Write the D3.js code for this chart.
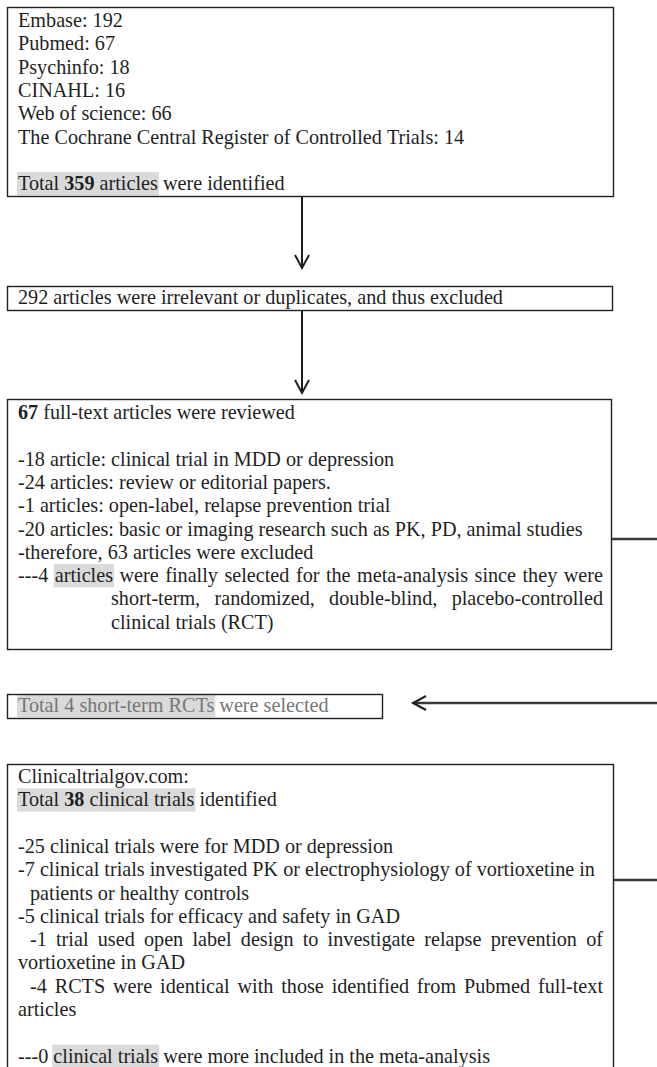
<!DOCTYPE html>
<html lang="en">
<head>
<meta charset="UTF-8">
<title>Flow diagram</title>
<script src="https://cdn.jsdelivr.net/npm/d3@7"></script>
<style>
  body { margin: 0; background: #fff; }
  svg { display: block; }
</style>
</head>
<body>
<div id="chart"></div>
<script>
// ---- data ----
var searchSources = ["Embase", "Pubmed", "Psychinfo", "CINAHL", "Web of science",
    "The Cochrane Central Register of Controlled Trials"];
var searchCounts = [192, 67, 18, 16, 66, 14];
var totalIdentified = 359;
var excludedScreening = 292;
var fullTextReviewed = 67;
var fullTextReasons = ["article: clinical trial in MDD or depression",
    "articles: review or editorial papers.",
    "articles: open-label, relapse prevention trial",
    "articles: basic or imaging research such as PK, PD, animal studies"];
var fullTextCounts = [18, 24, 1, 20];
var fullTextExcluded = 63;
var finalSelected = 4;
var trialsIdentified = 38;
var trialReasons = ["clinical trials were for MDD or depression",
    "clinical trials investigated PK or electrophysiology of vortioxetine in",
    "clinical trials for efficacy and safety in GAD"];
var trialCounts = [25, 7, 5];
var gadSplit = [1, 4];
var trialsAdded = 0;

// ---- page ----
var W = 657, H = 1067;
var FONT = "'Liberation Serif', 'Times New Roman', Times, serif";
var FS = 20.2, LH = 23.3, INK = "#1f1f1f", HL = "#dadada";

var svg = d3.select("#chart").append("svg")
    .attr("width", W).attr("height", H)
    .style("font-family", FONT).style("font-size", FS + "px");

// hidden text node used for measuring words (removed at the end)
var probe = svg.append("text").attr("x", 10).attr("y", 10).attr("opacity", 0);
function measure(str, bold) {
    probe.attr("font-weight", bold ? "bold" : "normal").text(str);
    return probe.node().getComputedTextLength();
}
var SPACE = measure("a a") - measure("aa");

// a line is a list of segments [text, flags]; b = bold, h = grey highlight
function seg(t, f) { return [t, f || ""]; }

var box1Lines = searchSources.map(function (s, i) { return { segs: [seg(s + ": " + searchCounts[i])] }; });
box1Lines.push({ segs: [] });
box1Lines.push({ segs: [seg("Total ", "h"), seg(String(totalIdentified), "bh"), seg(" articles", "h"), seg(" were identified")] });

var box2Lines = [{ segs: [seg(excludedScreening + " articles were irrelevant or duplicates, and thus excluded")] }];

var box3Lines = [{ segs: [seg(String(fullTextReviewed), "b"), seg(" full-text articles were reviewed")] }, { segs: [] }];
fullTextReasons.forEach(function (r, i) { box3Lines.push({ segs: [seg("-" + fullTextCounts[i] + " " + r)] }); });
box3Lines.push({ segs: [seg("-therefore, " + fullTextExcluded + " articles were excluded")] });
box3Lines.push({ segs: [seg("---" + finalSelected + " "), seg("articles", "h"), seg(" were finally selected for the meta-analysis since they were")], justify: true });
box3Lines.push({ segs: [seg("short-term, randomized, double-blind, placebo-controlled")], indent: 93, justify: true });
box3Lines.push({ segs: [seg("clinical trials (RCT)")], indent: 93 });

var box4Lines = [{ segs: [seg("Total " + finalSelected + " short-term RCTs", "h"), seg(" were selected")], color: "#767676" }];

var box5Lines = [{ segs: [seg("Clinicaltrialgov.com:")] },
    { segs: [seg("Total ", "h"), seg(String(trialsIdentified), "bh"), seg(" clinical trials", "h"), seg(" identified")] },
    { segs: [] },
    { segs: [seg("-" + trialCounts[0] + " " + trialReasons[0])] },
    { segs: [seg("-" + trialCounts[1] + " " + trialReasons[1])] },
    { segs: [seg("patients or healthy controls")], indent: 12 },
    { segs: [seg("-" + trialCounts[2] + " " + trialReasons[2])] },
    { segs: [seg("-" + gadSplit[0] + " trial used open label design to investigate relapse prevention of")], indent: 12, justify: true },
    { segs: [seg("vortioxetine in GAD")] },
    { segs: [seg("-" + gadSplit[1] + " RCTS were identical with those identified from Pubmed full-text")], indent: 12, justify: true },
    { segs: [seg("articles")] },
    { segs: [] },
    { segs: [seg("---" + trialsAdded + " "), seg("clinical trials", "h"), seg(" were more included in the meta-analysis")] }];

// ---- layout ----
var boxes = [
    { x: 7, y: 7, w: 606, h: 189, first: 27, lines: box1Lines },
    { x: 7, y: 286, w: 605, h: 24, first: 304, lines: box2Lines },
    { x: 7, y: 399, w: 604, h: 250, first: 419, lines: box3Lines },
    { x: 7, y: 694, w: 375, h: 24, first: 712, lines: box4Lines },
    { x: 7, y: 764, w: 606, h: 340, first: 783, lines: box5Lines }
];
var PADL = 11, RIGHT = 603;

function drawLine(g, line, x0, y) {
    var words = [], pending = false;
    line.segs.forEach(function (s) {
        var parts = s[0].split(" ");
        parts.forEach(function (p, k) {
            if (k > 0) pending = true;
            if (p === "") return;
            var bold = s[1].indexOf("b") >= 0;
            words.push({ t: p, b: bold, h: s[1].indexOf("h") >= 0, w: measure(p, bold), sp: pending && words.length > 0 });
            pending = false;
        });
    });
    if (!words.length) return;
    var gap = SPACE;
    if (line.justify) {
        var sum = d3.sum(words, function (d) { return d.w; });
        var n = words.filter(function (d) { return d.sp; }).length;
        if (n) gap = (RIGHT - x0 - sum) / n;
    }
    var cx = x0;
    words.forEach(function (d) { if (d.sp) cx += gap; d.x = cx; cx += d.w; });

    // highlight runs
    var run = null, runs = [];
    words.forEach(function (d) {
        if (d.h) { if (!run) { run = { x0: d.x }; runs.push(run); } run.x1 = d.x + d.w; }
        else run = null;
    });
    g.selectAll(null).data(runs).enter().append("rect")
        .attr("x", function (r) { return r.x0 - 1; })
        .attr("y", y - 18).attr("height", LH)
        .attr("width", function (r) { return r.x1 - r.x0 + 2; })
        .attr("fill", HL);

    g.selectAll(null).data(words).enter().append("text")
        .attr("x", function (d) { return d.x; })
        .attr("y", y)
        .attr("font-weight", function (d) { return d.b ? "bold" : "normal"; })
        .attr("fill", line.color || INK)
        .text(function (d) { return d.t; });
}

boxes.forEach(function (b) {
    var g = svg.append("g");
    b.lines.forEach(function (line, i) {
        drawLine(g, line, b.x + PADL + (line.indent || 0), b.first + i * LH);
    });
    g.append("rect")
        .attr("x", b.x + 0.5).attr("y", b.y + 0.5)
        .attr("width", b.w).attr("height", b.h)
        .attr("fill", "none").attr("stroke", INK).attr("stroke-width", 1.4);
});
probe.remove();

// ---- connectors ----
var AX = 302;
function downArrow(x, y0, y1) {
    svg.append("line").attr("x1", x).attr("x2", x).attr("y1", y0).attr("y2", y1)
        .attr("stroke", INK).attr("stroke-width", 2);
    svg.append("path").attr("d", "M" + (x - 7) + "," + (y1 - 13) + "L" + x + "," + y1 + "L" + (x + 7) + "," + (y1 - 13))
        .attr("fill", "none").attr("stroke", INK).attr("stroke-width", 2);
}
downArrow(AX, boxes[0].y + boxes[0].h, 268);
downArrow(AX, boxes[1].y + boxes[1].h, 393);

// side lines running off the right edge
[[boxes[2], 539], [boxes[4], 880]].forEach(function (p) {
    svg.append("line").attr("x1", p[0].x + p[0].w + 1).attr("x2", W)
        .attr("y1", p[1]).attr("y2", p[1])
        .attr("stroke", "#3a3a3a").attr("stroke-width", 2.5);
});

// left arrow into the selection box
var ay = 703, tipX = 413;
svg.append("line").attr("x1", W).attr("x2", tipX).attr("y1", ay).attr("y2", ay)
    .attr("stroke", "#3a3a3a").attr("stroke-width", 2.5);
svg.append("path").attr("d", "M" + (tipX + 13) + "," + (ay - 7) + "L" + tipX + "," + ay + "L" + (tipX + 13) + "," + (ay + 7))
    .attr("fill", "none").attr("stroke", INK).attr("stroke-width", 2);
</script>
</body>
</html>
